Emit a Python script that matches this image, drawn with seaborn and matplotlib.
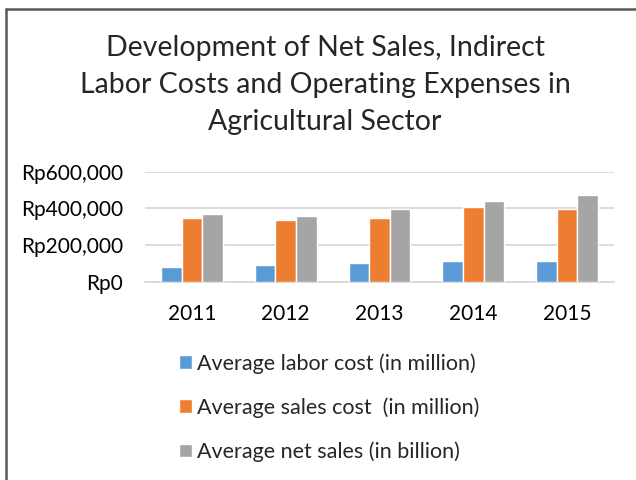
import pandas as pd
import matplotlib.pyplot as plt
import seaborn as sns
from matplotlib.lines import Line2D
from matplotlib.ticker import FuncFormatter

# Values
years = ["2011", "2012", "2013", "2014", "2015"]
labor_cost = [82000, 91000, 102000, 111000, 111000]
sales_cost = [349000, 338000, 349000, 409000, 398000]
net_sales = [371000, 360000, 398000, 438000, 471000]

series_names = [
    "Average labor cost (in million)",
    "Average sales cost  (in million)",
    "Average net sales (in billion)",
]
colors = ["#5B9BD5", "#ED7D31", "#A5A5A5"]

# Long format table for seaborn
df = pd.DataFrame({
    "year": years * 3,
    "value": labor_cost + sales_cost + net_sales,
    "series": [series_names[0]] * 5 + [series_names[1]] * 5 + [series_names[2]] * 5,
})

sns.set_style("white")
plt.rcParams["font.family"] = ["Lato", "DejaVu Sans"]

fig = plt.figure(figsize=(6.36, 4.8), dpi=100)
ax = fig.add_axes([145 / 636, 1 - 281.7 / 480, 469 / 636, 110 / 480])

sns.barplot(data=df, x="year", y="value", hue="series", palette=colors,
            width=0.66, saturation=1, ax=ax, zorder=3)

ax.set_ylim(0, 600000)
ax.set_yticks([0, 200000, 400000, 600000])
ax.yaxis.set_major_formatter(FuncFormatter(lambda v, _: f"Rp{v:,.0f}"))
ax.grid(axis="y", color="#D9D9D9", linewidth=1.3, zorder=0)
ax.set_axisbelow(True)
for side in ["left", "right", "top"]:
    ax.spines[side].set_visible(False)
ax.spines["bottom"].set_color("#D9D9D9")
ax.spines["bottom"].set_linewidth(1.3)
ax.tick_params(axis="both", length=0, labelsize=15, colors="#000000")
ax.tick_params(axis="y", pad=16)
ax.tick_params(axis="x", pad=16)
ax.set_xlabel("")
ax.set_ylabel("")

# legend below the plot, one entry per row
handles, labels = ax.get_legend_handles_labels()
ax.get_legend().remove()
fig.legend(handles, labels, loc="upper left", bbox_to_anchor=(179 / 636, 1 - 353 / 480),
           frameon=False, fontsize=15.5, handlelength=0.6, handleheight=0.6,
           handletextpad=0.25, labelspacing=1.1, borderpad=0, borderaxespad=0)

# title
fig.text(325 / 636, 1 - 35 / 480,
         "Development of Net Sales, Indirect\nLabor Costs and Operating Expenses in\nAgricultural Sector",
         ha="center", va="top", fontsize=20.5, linespacing=1.53)

# chart border (top and left edges visible)
fig.add_artist(Line2D([6 / 636, 6 / 636], [0, 1 - 9 / 480], color="#595959", linewidth=1.8))
fig.add_artist(Line2D([6 / 636, 1], [1 - 9 / 480, 1 - 9 / 480], color="#595959", linewidth=1.8))

fig.savefig("out.png", dpi=100)
